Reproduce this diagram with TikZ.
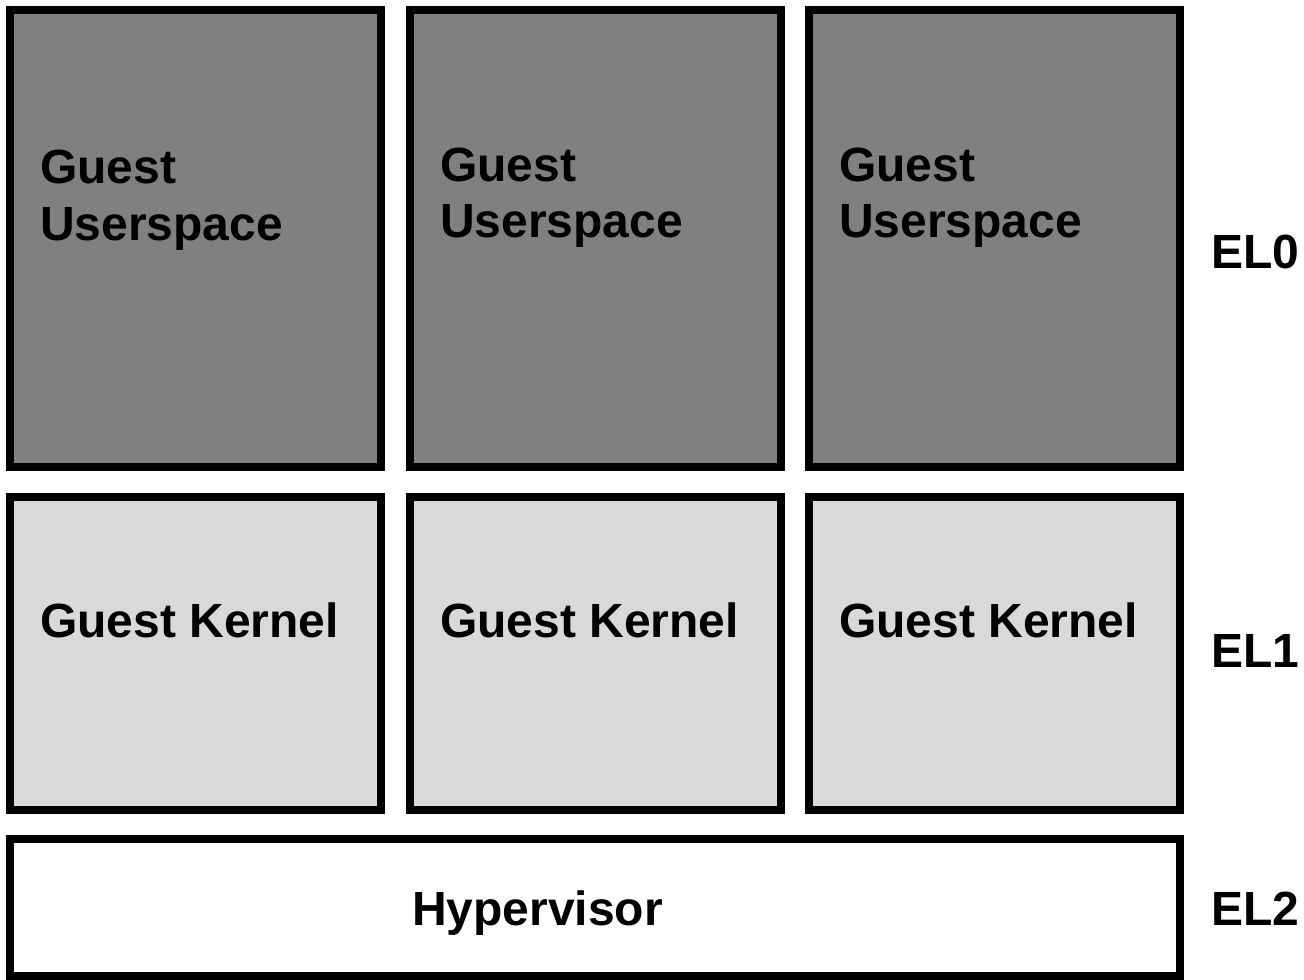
\documentclass[tikz,border=0pt]{standalone}
\usepackage{fontspec}
\setmainfont{Liberation Sans}
\usetikzlibrary{calc}
\definecolor{userfill}{HTML}{808080}
\definecolor{kernfill}{HTML}{D9D9D9}
\begin{document}
\begin{tikzpicture}[x=1pt,y=-1pt,
  layer/.style={draw=black,line width=8pt,inner sep=0pt,outer sep=0pt,anchor=north west},
  userbox/.style={layer,fill=userfill,minimum width=371pt,minimum height=457pt},
  kernbox/.style={layer,fill=kernfill,minimum width=371pt,minimum height=313pt},
  hypbox/.style={layer,fill=white,minimum width=1170pt,minimum height=137pt},
  txt/.style={inner sep=0pt,anchor=base west,font=\bfseries\fontsize{48}{57}\selectfont},
]
\useasboundingbox (0,0) rectangle (1304,980);
% exception level 0: guest userspace
\node[userbox] (u1) at (10,10) {};
\node[userbox] (u2) at (410,10) {};
\node[userbox] (u3) at (809,10) {};
% exception level 1: guest kernels
\node[kernbox] (k1) at (10,497) {};
\node[kernbox] (k2) at (410,497) {};
\node[kernbox] (k3) at (809,497) {};
% exception level 2: hypervisor
\node[hypbox] (hv) at (10,839) {};
% box captions
\node[txt] (u1a) at ($(u1.north west)+(30,173)$) {Guest};
\node[txt] (u1b) at ($(u1.north west)+(30,230)$) {Userspace};
\node[txt] (u2a) at ($(u2.north west)+(30,171)$) {Guest};
\node[txt] (u2b) at ($(u2.north west)+(30,227)$) {Userspace};
\node[txt] (u3a) at ($(u3.north west)+(30,171)$) {Guest};
\node[txt] (u3b) at ($(u3.north west)+(30,227)$) {Userspace};
\node[txt] (k1t) at ($(k1.north west)+(30,140)$) {Guest Kernel};
\node[txt] (k2t) at ($(k2.north west)+(30,140)$) {Guest Kernel};
\node[txt] (k3t) at ($(k3.north west)+(30,140)$) {Guest Kernel};
\node[txt] (hvt) at ($(hv.north west)+(402,86)$) {Hypervisor};
% level labels
\node[txt] (el0) at (1211,268) {EL0};
\node[txt] (el1) at (1211,667) {EL1};
\node[txt] (el2) at (1211,925) {EL2};
\end{tikzpicture}
\end{document}
